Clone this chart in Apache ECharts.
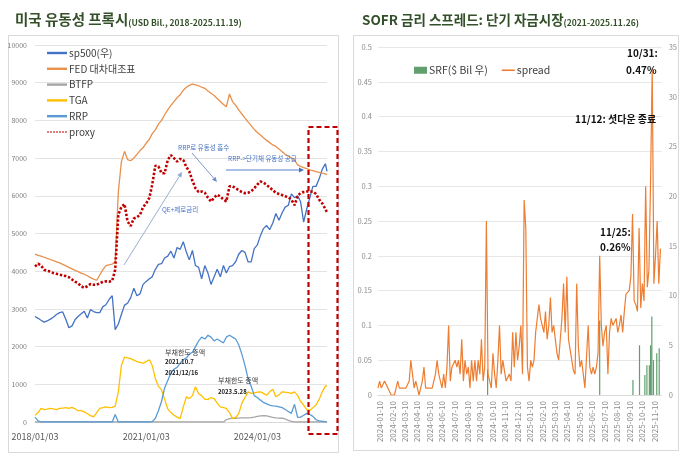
<!DOCTYPE html>
<html><head><meta charset="utf-8">
<script src="https://cdn.jsdelivr.net/npm/echarts@6/dist/echarts.min.js"></script>
<style>html,body{margin:0;padding:0;background:#fff;}#c{width:680px;height:468px;}</style>
</head><body><div id="c"></div>
<script>
// ---------- LEFT CHART DATA (monthly, 2018-01-03 .. 2025-11-03, plus 2025-11-19) ----------
const leftStartYear = 2018;
const leftMonthCount = 95;
const leftLastDate = '2025-11-19';
const leftTickLabels = ['2018-01-03', '2021-01-03', '2024-01-03'];

const sp500 = [
 2800,2750,2700,2650,2680,2730,2780,2850,2900,2920,2720,2500,
 2550,2720,2800,2870,2940,2760,2980,2930,2900,2900,3060,3110,
 3250,3350,2450,2600,2850,3100,3150,3300,3550,3350,3400,3650,
 3730,3800,3850,4050,4180,4200,4350,4400,4530,4350,4630,4580,
 4780,4500,4300,4550,4150,4100,3800,4150,3950,3650,3850,4050,
 3850,4150,3950,4120,4150,4250,4450,4550,4500,4250,4250,4600,
 4700,4950,5130,5210,5100,5280,5530,5350,5550,5700,5750,6050,
 5950,6000,5850,5300,5650,5950,6250,6250,6450,6700,6850,6650];
const fedBalance = [
 4450,4420,4400,4370,4340,4310,4280,4250,4220,4180,4140,4100,
 4060,4020,3990,3950,3920,3880,3830,3790,3760,3900,4040,4150,
 4170,4190,4250,6100,6900,7180,6960,6930,7000,7100,7200,7280,
 7400,7500,7650,7750,7900,8000,8150,8280,8400,8500,8600,8680,
 8800,8880,8930,8960,8940,8920,8880,8850,8780,8720,8660,8580,
 8500,8420,8360,8700,8500,8400,8280,8170,8060,7960,7860,7760,
 7680,7610,7540,7470,7410,7350,7310,7240,7170,7100,7050,7010,
 6950,6820,6780,6750,6720,6690,6670,6640,6620,6600,6580,6560];
const btfp = [
 0,0,0,0,0,0,0,0,0,0,0,0,
 0,0,0,0,0,0,0,0,0,0,0,0,
 0,0,0,0,0,0,0,0,0,0,0,0,
 0,0,0,0,0,0,0,0,0,0,0,0,
 0,0,0,0,0,0,0,0,0,0,0,0,
 0,0,60,90,100,100,105,108,108,110,115,130,
 150,165,170,165,140,120,110,105,100,80,45,15,
 0,0,0,0,0,0,0,0,0,0,0,0];
const tga = [
 180,250,360,330,340,360,350,330,360,370,380,360,
 390,350,300,300,270,220,170,135,250,360,380,400,
 380,390,420,800,1500,1720,1700,1680,1640,1600,1580,1560,
 1600,1650,1500,1150,950,850,600,350,250,180,130,90,
 400,670,620,700,935,750,700,600,600,650,620,500,
 400,380,360,250,90,120,220,500,650,800,760,770,
 790,800,760,710,800,870,670,720,800,790,780,760,
 800,700,550,450,330,310,380,450,600,800,950,960];
const rrp = [
 130,30,0,0,0,0,0,0,0,0,0,0,
 0,0,0,0,0,0,0,0,0,0,0,0,
 0,0,200,0,0,0,0,0,0,0,0,0,
 0,0,10,100,300,550,900,1100,1300,1400,1450,1560,
 1650,1700,1800,1850,2000,2150,2250,2200,2300,2250,2150,2200,
 2150,2100,2250,2300,2250,2200,2050,1800,1500,1150,950,700,
 650,580,520,480,450,430,420,400,380,330,280,230,
 470,120,130,180,230,200,150,60,30,20,10,5];
const proxy = [
 4125,4200,4150,4040,4010,3990,3950,3930,3910,3890,3870,3840,
 3780,3720,3680,3600,3560,3600,3660,3640,3640,3680,3720,3730,
 3720,3750,4035,5500,5700,5780,5320,5200,5400,5430,5500,5700,
 5800,5950,6300,6800,6780,6600,6600,6950,7080,7000,6910,6980,
 6950,6760,6650,6400,6200,6100,6115,6080,5950,5850,5950,6030,
 5980,5900,5850,6250,6250,6200,6150,6100,6070,6080,6120,6200,
 6300,6380,6350,6290,6220,6150,6080,6050,6020,5990,5960,5900,
 5750,6000,6070,6100,6115,6110,6115,6050,5900,5800,5650,5560];

// ---------- RIGHT CHART DATA ----------
const spreadStart = '2024-01-05';
const spreadStepDays = 4;
const spreadEnd = '2025-11-26';
const spread = [
 0.01,0.02,0.01,0.01,0.02,0.02,0.01,0.01,0.00,0.00,
 0.00,0.01,0.02,0.01,0.01,0.01,0.01,0.01,0.01,0.02,
 0.05,0.03,0.01,0.02,0.01,0.00,0.01,0.02,0.04,0.01,
 0.01,0.01,0.01,0.01,0.02,0.03,0.05,0.03,0.02,0.01,
 0.03,0.01,0.04,0.10,0.02,0.04,0.04,0.05,0.04,0.05,
 0.03,0.08,0.02,0.05,0.03,0.04,0.01,0.05,0.02,0.05,
 0.02,0.05,0.03,0.08,0.02,0.04,0.25,0.03,0.03,0.01,
 0.06,0.03,0.01,0.05,0.10,0.03,0.05,0.05,0.02,0.02,
 0.03,0.02,0.09,0.04,0.09,0.05,
 0.07,0.10,0.03,0.28,0.24,0.04,0.02,0.05,0.04,0.05,
 0.09,0.09,0.13,0.11,0.11,0.09,0.12,0.08,0.10,0.14,
 0.09,0.10,0.08,0.06,0.05,0.08,0.11,0.16,0.09,0.17,
 0.08,0.08,0.05,0.035,0.03,0.16,0.07,0.04,0.05,0.03,
 0.01,0.01,0.10,0.04,0.03,0.04,0.03,0.04,0.06,0.20,
 0.10,0.07,0.09,0.10,0.03,0.09,0.11,0.10,0.10,0.11,
 0.09,0.10,0.115,0.09,0.12,0.145,0.145,0.15,0.17,0.26,
 0.135,0.13,0.12,0.24,0.125,0.16,0.135,0.30,0.155,0.18,
 0.31,0.47,0.16,0.20,0.25,0.16,0.21];
const srfDates = ['2024-09-28','2025-06-28','2025-09-17','2025-10-03','2025-10-16','2025-10-21','2025-10-27','2025-10-30','2025-11-02','2025-11-06','2025-11-14','2025-11-20'];
const srfValues = [2.6, 7.5, 1.5, 5.0, 2.0, 3.0, 3.0, 5.0, 7.9, 3.5, 4.2, 4.7];
const rightTickLabels = ['2024-01-10','2024-02-10','2024-03-10','2024-04-10','2024-05-10','2024-06-10','2024-07-10','2024-08-10','2024-09-10','2024-10-10','2024-11-10','2024-12-10','2025-01-10','2025-02-10','2025-03-10','2025-04-10','2025-05-10','2025-06-10','2025-07-10','2025-08-10','2025-09-10','2025-10-10','2025-11-10'];

// ---------- helpers ----------
function ts(s){ const p = s.split('-').map(Number); return new Date(p[0], p[1]-1, p[2]).getTime(); }
function pad(n){ return (n<10?'0':'')+n; }
const leftDates = [];
for (let m = 0; m < leftMonthCount; m++) {
  leftDates.push(ts((leftStartYear + Math.floor(m/12)) + '-' + pad(m%12+1) + '-03'));
}
leftDates.push(ts(leftLastDate));
const spreadDates = spread.map((_, i) => { const p = spreadStart.split('-').map(Number); return new Date(p[0], p[1]-1, p[2] + spreadStepDays*i).getTime(); });
const pairs = (xs, ys) => ys.map((v, i) => [xs[i], v]);

const FONT = '"Noto Sans CJK KR", "Noto Sans", sans-serif';
const TITLE_C = '#34502a';
const DOT_ICON = 'path://' + [0,1,2,3,4,5,6].map(k => 'M' + (k*3) + ',0h2v1h-2z').join(' ');

const chart = echarts.init(document.getElementById('c'), null, {renderer: 'canvas'});

function lineS(name, data, color, width, extra) {
  return Object.assign({
    name, type: 'line', xAxisIndex: 0, yAxisIndex: 0, data,
    showSymbol: false, symbol: 'none', animation: false,
    lineStyle: { color, width }, itemStyle: { color }
  }, extra || {});
}

function arrow(x1, y1, x2, y2, color) {
  const dx = x2 - x1, dy = y2 - y1, L = Math.hypot(dx, dy);
  const ux = dx / L, uy = dy / L, h = 5, w = 2.4;
  const bx = x2 - ux * h, by = y2 - uy * h;
  return [
    { type: 'line', z: 50, shape: { x1, y1, x2: bx, y2: by }, style: { stroke: color, lineWidth: 0.9 } },
    { type: 'polygon', z: 50, shape: { points: [[x2, y2], [bx - uy * w, by + ux * w], [bx + uy * w, by - ux * w]] }, style: { fill: color } }
  ];
}
function txt(text, x, y, size, color, bold) {
  return { type: 'text', z: 50, style: { text, x, y, fill: color, font: (bold ? 'bold ' : '') + size + 'px ' + FONT, textAlign: 'left', textVerticalAlign: 'middle' } };
}
const fmtDate = (sep) => v => { const d = new Date(v); return d.getFullYear() + sep + pad(d.getMonth()+1) + sep + pad(d.getDate()); };

const option = {
  backgroundColor: '#fff',
  animation: false,
  title: [
    { left: 10, top: 2, text: '{a|미국 유동성 프록시}{b|(USD Bil., 2018-2025.11.19)}',
      textStyle: { rich: {
        a: { fontFamily: FONT, fontSize: 14.5, fontWeight: 'bold', color: TITLE_C, lineHeight: 20, verticalAlign: 'bottom' },
        b: { fontFamily: FONT, fontSize: 8.5, fontWeight: 'bold', color: TITLE_C, lineHeight: 17, verticalAlign: 'bottom' } } } },
    { left: 357, top: 2, text: '{a|SOFR 금리 스프레드: 단기 자금시장}{b|(2021-2025.11.26)}',
      textStyle: { rich: {
        a: { fontFamily: FONT, fontSize: 13.5, fontWeight: 'bold', color: TITLE_C, lineHeight: 20, verticalAlign: 'bottom' },
        b: { fontFamily: FONT, fontSize: 8.5, fontWeight: 'bold', color: TITLE_C, lineHeight: 17, verticalAlign: 'bottom' } } } }
  ],
  legend: [
    { orient: 'vertical', left: 42, top: 42, itemWidth: 20, itemHeight: 2.4, itemGap: 3.8,
      textStyle: { fontFamily: FONT, fontSize: 10, color: '#404040', lineHeight: 12, padding: [0, 0, 0, -3] },
      data: [
        { name: 'sp500(우)', icon: 'rect' }, { name: 'FED 대차대조표', icon: 'rect' }, { name: 'BTFP', icon: 'rect' },
        { name: 'TGA', icon: 'rect' }, { name: 'RRP', icon: 'rect' }, { name: 'proxy', icon: DOT_ICON }] },
    { orient: 'horizontal', left: 409, top: 60, itemWidth: 13, itemHeight: 7, itemGap: 14,
      textStyle: { fontFamily: FONT, fontSize: 10.5, color: '#404040', padding: [0, 0, 0, -3] },
      data: [{ name: 'SRF($ Bil 우)', icon: 'rect' }, { name: 'spread', icon: 'path://M0,3L13,3L13,4.6L0,4.6Z' }] }
  ],
  grid: [
    { left: 35, top: 45, width: 292, height: 377 },
    { left: 378, top: 47, width: 286, height: 348 }
  ],
  xAxis: [
    { type: 'value', gridIndex: 0, min: ts('2018-01-03'), max: ts('2025-11-19'), scale: true,
      axisLine: { show: true, lineStyle: { color: '#D9D9D9' } }, axisTick: { show: false }, splitLine: { show: false },
      axisLabel: { customValues: leftTickLabels.map(ts), fontFamily: FONT, fontSize: 9, color: '#595959', margin: 10, formatter: fmtDate('/') } },
    { type: 'value', gridIndex: 1, min: ts('2024-01-05'), max: ts(spreadEnd), scale: true,
      axisLine: { show: true, lineStyle: { color: '#D9D9D9' } }, axisTick: { show: false }, splitLine: { show: false },
      axisLabel: { customValues: rightTickLabels.map(ts), rotate: 90, fontFamily: FONT, fontSize: 8, color: '#8c8c8c', margin: 6, formatter: fmtDate('-') } }
  ],
  yAxis: [
    { type: 'value', gridIndex: 0, min: 0, max: 10000, interval: 1000,
      axisLine: { show: false }, axisTick: { show: false },
      splitLine: { lineStyle: { color: '#E3E3E3', width: 1 } },
      axisLabel: { fontFamily: FONT, fontSize: 7, color: '#7f7f7f', margin: 8, formatter: v => String(v) } },
    { type: 'value', gridIndex: 0, position: 'right', min: 0, max: 10000, interval: 1000, show: false, splitLine: { show: false } },
    { type: 'value', gridIndex: 1, min: 0, max: 0.5, interval: 0.05,
      axisLine: { show: false }, axisTick: { show: false },
      splitLine: { lineStyle: { color: '#E7E7E7', width: 1 } },
      axisLabel: { fontFamily: FONT, fontSize: 7.5, color: '#8c8c8c', margin: 6, formatter: v => String(+v.toFixed(2)) } },
    { type: 'value', gridIndex: 1, position: 'right', min: 0, max: 35, interval: 5,
      axisLine: { show: false }, axisTick: { show: false }, splitLine: { show: false },
      axisLabel: { fontFamily: FONT, fontSize: 7.5, color: '#8c8c8c', margin: 7 } }
  ],
  series: [
    lineS('sp500(우)', pairs(leftDates, sp500), '#4472C4', 1.3, { yAxisIndex: 1 }),
    lineS('FED 대차대조표', pairs(leftDates, fedBalance), '#E8904C', 1.3),
    lineS('BTFP', pairs(leftDates, btfp), '#A5A5A5', 1.3),
    lineS('TGA', pairs(leftDates, tga), '#FFC000', 1.3),
    lineS('RRP', pairs(leftDates, rrp), '#5B9BD5', 1.3),
    lineS('proxy', pairs(leftDates, proxy), '#C00000', 2.6, { lineStyle: { color: '#C00000', width: 2.6, type: [2.4, 1.8] } }),
    { name: 'SRF($ Bil 우)', type: 'bar', xAxisIndex: 1, yAxisIndex: 3, barWidth: 1.2, z: 1,
      data: pairs(srfDates.map(ts), srfValues), itemStyle: { color: '#2E7D3E', opacity: 0.75 } },
    { name: 'spread', type: 'line', xAxisIndex: 1, yAxisIndex: 2, z: 3, showSymbol: false, symbol: 'none',
      data: pairs(spreadDates, spread), lineStyle: { color: '#ED7D31', width: 1.2 }, itemStyle: { color: '#ED7D31' } }
  ],
  graphic: [
    { type: 'rect', z: -5, silent: true, shape: { x: 8.5, y: 35.5, width: 330, height: 417 }, style: { fill: 'none', stroke: '#D9D9D9', lineWidth: 1 } },
    { type: 'rect', z: -5, silent: true, shape: { x: 353.5, y: 35.5, width: 325, height: 415 }, style: { fill: 'none', stroke: '#D9D9D9', lineWidth: 1 } },
    { type: 'rect', z: 60, silent: true, shape: { x: 308.5, y: 127, width: 29, height: 307 }, style: { fill: 'none', stroke: '#C00000', lineWidth: 2.2, lineDash: [5, 3] } },
    ...arrow(124, 265, 182, 172, '#8FA6CC'),
    ...arrow(192, 153, 217, 182, '#6F8FC4'),
    ...arrow(226, 170, 304, 170, '#4472C4'),
    txt('RRP로 유동성 흡수', 178, 148, 6.5, '#4472C4'),
    txt('RRP->단기채 유동성 공급', 228, 159, 6.5, '#4472C4'),
    txt('QE+제로금리', 162, 210, 6.5, '#4472C4'),
    txt('부채한도 증액', 165, 352, 7, '#404040'),
    txt('2021.10.7', 165, 362, 6, '#222', true),
    txt('2021/12/16', 165, 373, 6, '#222', true),
    txt('부채한도 증액', 218, 380, 7, '#404040'),
    txt('2023.5.28', 218, 392, 6, '#222', true),
    txt('10/31:', 627, 53, 10, '#111', true),
    txt('0.47%', 626, 70, 10, '#111', true),
    txt('11/12: 셧다운 종료', 575, 119, 10, '#111', true),
    txt('11/25:', 600, 232, 10, '#111', true),
    txt('0.26%', 600, 247, 10, '#111', true)
  ]
};
chart.setOption(option);
</script></body></html>
